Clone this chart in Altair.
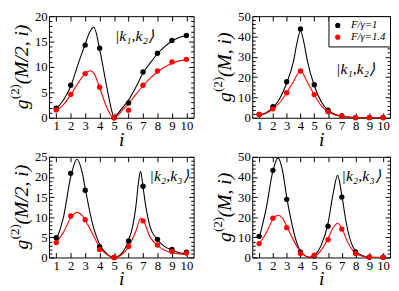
import altair as alt
import pandas as pd

S1 = "F/γ=1"
S2 = "F/γ=1.4"
SERIES = [S1, S2]
COLORS = ["#000000", "#ff0000"]

X = [1, 2, 3, 4, 5, 6, 7, 8, 9, 10]

# ---- panel A: g2(M/2, i), |k1,k2>
A_BLACK = [1.9, 6.4, 14.3, 13.7, 0.0, 2.9, 9.0, 12.7, 15.2, 16.2]
A_RED = [1.55, 4.6, 8.7, 6.0, 0.0, 1.5, 6.4, 9.2, 11.0, 11.5]
A_BCX = [1, 1.5, 2, 2.5, 3, 3.3, 3.6, 4.0, 4.3, 4.6, 4.8, 5.0, 5.2, 5.5, 6, 6.5, 7, 7.5, 8, 8.5, 9, 9.5, 10]
A_BCY = [1.8, 3.5, 6.2, 10.5, 14.5, 16.8, 17.8, 13.5, 9.0, 4.5, 1.8, 0.05, 0.6, 1.7, 3.5, 6.0, 8.8, 10.8, 12.6, 14.0, 15.1, 15.8, 16.2]
A_RCX = [1, 1.5, 2, 2.5, 3, 3.33, 3.6, 4.0, 4.5, 4.8, 5.0, 5.3, 5.6, 6, 6.5, 7, 7.5, 8, 8.5, 9, 9.5, 10]
A_RCY = [1.4, 2.6, 4.5, 6.8, 8.7, 9.25, 8.8, 5.9, 2.0, 0.4, 0.02, 0.6, 1.6, 2.8, 4.6, 6.3, 7.8, 9.0, 10.0, 10.7, 11.2, 11.4]

# ---- panel B: g2(M, i), |k1,k2>
B_BLACK = [1.7, 5.5, 17.7, 43.7, 16.3, 3.7, 0.9, 0.1, 0.1, 0.1]
B_RED = [1.6, 4.4, 12.3, 23.0, 11.4, 3.0, 0.8, 0.05, 0.05, 0.05]
B_BCX = [1, 1.5, 2, 2.5, 3, 3.5, 3.75, 4, 4.25, 4.5, 5, 5.5, 6, 6.5, 7, 7.5, 8, 9, 10]
B_BCY = [1.2, 2.5, 5.0, 9.5, 17.1, 28.0, 37.0, 42.7, 37.0, 28.0, 15.9, 8.0, 3.8, 1.7, 0.7, 0.3, 0.1, 0.02, 0.0]
B_RCX = [1, 1.5, 2, 2.5, 3, 3.5, 4, 4.5, 5, 5.5, 6, 6.5, 7, 7.5, 8, 9, 10]
B_RCY = [1.0, 2.2, 4.3, 7.5, 12.3, 18.0, 23.0, 17.5, 11.3, 6.0, 3.0, 1.4, 0.6, 0.25, 0.1, 0.02, 0.0]

# ---- panel C: g2(M/2, i), |k2,k3>
C_BLACK = [4.9, 20.9, 16.7, 2.7, 0.0, 4.1, 17.7, 4.5, 2.0, 1.3]
C_RED = [3.7, 10.3, 9.4, 2.0, 0.0, 2.7, 9.1, 3.1, 1.5, 1.1]
C_BCX = [1, 1.5, 2, 2.43, 2.8, 3, 3.5, 4, 4.5, 5, 5.5, 6, 6.3, 6.5, 6.7, 6.83, 7, 7.2, 7.5, 8, 8.5, 9, 9.5, 10]
C_BCY = [4.2, 10.0, 20.0, 24.4, 21.0, 17.2, 8.5, 3.3, 0.9, 0.0, 0.9, 4.3, 8.0, 12.5, 19.0, 21.4, 17.5, 12.5, 7.5, 4.4, 2.7, 1.8, 1.2, 0.9]
C_RCX = [1, 1.5, 2, 2.43, 2.8, 3.2, 3.6, 4, 4.5, 5, 5.5, 6, 6.5, 6.85, 7, 7.5, 8, 8.5, 9, 9.5, 10]
C_RCY = [3.6, 6.3, 9.8, 11.2, 10.4, 8.0, 5.2, 2.6, 0.7, 0.0, 0.6, 2.6, 6.5, 9.8, 9.3, 5.0, 3.0, 1.8, 1.2, 0.9, 0.7]

# ---- panel D: g2(M, i), |k2,k3>
D_BLACK = [10.5, 43.3, 28.9, 2.7, 0.8, 15.5, 30.0, 2.8, 0.1, 0.1]
D_RED = [6.9, 19.5, 14.8, 2.0, 1.1, 8.8, 14.1, 2.0, 0.2, 0.1]
D_BCX = [1, 1.5, 2, 2.37, 2.7, 3, 3.4, 3.8, 4.2, 4.67, 5.1, 5.5, 6, 6.35, 6.7, 7, 7.3, 7.7, 8, 8.5, 9, 9.5, 10]
D_BCY = [9.5, 24.0, 43.0, 49.5, 43.0, 30.0, 16.0, 6.0, 1.5, 0.0, 1.5, 6.0, 17.0, 31.0, 40.8, 31.0, 18.0, 7.0, 3.2, 0.9, 0.2, 0.05, 0.0]
D_RCX = [1, 1.5, 2, 2.37, 2.7, 3, 3.5, 4, 4.3, 4.67, 5.1, 5.5, 6, 6.35, 6.7, 7, 7.4, 7.8, 8, 8.5, 9, 10]
D_RCY = [6.8, 12.0, 19.0, 21.0, 19.5, 15.5, 8.5, 3.0, 1.0, 0.2, 1.0, 3.5, 9.5, 14.5, 17.0, 14.5, 8.0, 3.5, 2.2, 0.6, 0.15, 0.0]

Y20_MAJOR = [0, 5, 10, 15, 20]
Y20_MINOR = [v for v in range(0, 21) if v % 5]
Y25_MAJOR = [0, 5, 10, 15, 20, 25]
Y25_MINOR = [v for v in range(0, 26) if v % 5]
Y50_MAJOR = [0, 10, 20, 30, 40, 50]
Y50_MINOR = [v for v in range(0, 51, 2) if v % 10]

# y-axis title pieces: "g", superscript "(2)", argument
TITLE_G = "g"
TITLE_SUP = "(2)"
ARG_HALF = "(M/2, i)"
ARG_FULL = "(M, i)"

FONT = "Liberation Serif"


def ytitle_layers(arg, w_arg, h):
    # rotated title built from three text pieces so the superscript can be raised
    total = 10.5 + 15 + w_arg
    y0 = h / 2 + total / 2
    g = alt.Chart(pd.DataFrame({"t": [TITLE_G]})).mark_text(
        font=FONT, fontSize=20, fontStyle="italic", angle=270, align="left",
        baseline="alphabetic", color="black").encode(
        text="t:N", x=alt.value(-22), y=alt.value(y0))
    s = alt.Chart(pd.DataFrame({"t": [TITLE_SUP]})).mark_text(
        font=FONT, fontSize=13, angle=270, align="left",
        baseline="alphabetic", color="black").encode(
        text="t:N", x=alt.value(-31), y=alt.value(y0 - 10.5))
    a = alt.Chart(pd.DataFrame({"t": [arg]})).mark_text(
        font=FONT, fontSize=20, fontStyle="italic", angle=270, align="left",
        baseline="alphabetic", color="black").encode(
        text="t:N", x=alt.value(-22), y=alt.value(y0 - 25.5))
    return [g, s, a]


def panel(black, red, bcx, bcy, rcx, rcy, ymax, ymaj, ymin, arg, w_arg, ket, ketx, kety, w, h, legend=False):
    pts = pd.DataFrame({"i": X + X, "g": black + red, "s": [S1] * len(X) + [S2] * len(X)})
    cb = pd.DataFrame({"i": bcx, "g": bcy})
    cr = pd.DataFrame({"i": rcx, "g": rcy})
    kdf = pd.DataFrame({"i": [ketx], "g": [kety], "t": [ket]})
    xsc = alt.Scale(domain=[0.5, 10.5], nice=False, zero=False)
    ysc = alt.Scale(domain=[0, ymax], nice=False, zero=False)
    csc = alt.Scale(domain=SERIES, range=COLORS)
    common = dict(domain=False, grid=False, labelFlush=False, labelOverlap=False)

    if legend:
        leg = alt.Legend(orient="top-right", offset=0, title=None, strokeColor="black",
                         fillColor="white", padding=4, labelFont=FONT, labelFontSize=11,
                         labelFontStyle="italic", labelColor="black", symbolType="circle",
                         symbolSize=28, symbolStrokeWidth=0, labelOffset=8, rowPadding=0,
                         labelLimit=100)
    else:
        leg = None

    lb = alt.Chart(cb).mark_line(strokeWidth=1.1, interpolate="monotone", color="black").encode(
        x=alt.X("i:Q", scale=xsc, axis=alt.Axis(orient="top", values=X, offset=-5, tickSize=5,
                                                labels=False, title=None, **common)),
        y=alt.Y("g:Q", scale=ysc, axis=alt.Axis(orient="right", values=ymaj, offset=-5, tickSize=5,
                                                labels=False, title=None, **common)),
    )
    lr = alt.Chart(cr).mark_line(strokeWidth=1.1, interpolate="monotone", color="red").encode(
        x=alt.X("i:Q", scale=xsc, axis=None),
        y=alt.Y("g:Q", scale=ysc, axis=alt.Axis(orient="right", values=ymin, offset=-3, tickSize=3,
                                                labels=False, title=None, **common)),
    )
    p = alt.Chart(pts).mark_point(filled=True, size=30, opacity=1).encode(
        x=alt.X("i:Q", scale=xsc, axis=alt.Axis(orient="bottom", values=X, offset=-5, tickSize=5,
                                                labelPadding=2, title="i", titlePadding=-3, **common)),
        y=alt.Y("g:Q", scale=ysc, axis=alt.Axis(orient="left", values=ymaj, offset=-5, tickSize=5,
                                                labelPadding=2, title=None, **common)),
        color=alt.Color("s:N", scale=csc, legend=leg),
    )
    m1 = alt.Chart(pts).mark_point(opacity=0).encode(
        x=alt.X("i:Q", scale=xsc, axis=None),
        y=alt.Y("g:Q", scale=ysc, axis=alt.Axis(orient="left", values=ymin, offset=-3, tickSize=3,
                                                labels=False, title=None, **common)),
    )
    t = alt.Chart(kdf).mark_text(font=FONT, fontSize=16, fontStyle="italic", color="black").encode(
        x=alt.X("i:Q", scale=xsc, axis=None),
        y=alt.Y("g:Q", scale=ysc, axis=None),
        text="t:N",
    )
    layers = [lb, lr, p, m1, t] + ytitle_layers(arg, w_arg, h)
    return alt.layer(*layers).resolve_axis(x="independent", y="independent").properties(
        width=w, height=h)


W1, W2, H1, H2 = 148, 141, 104, 103

a = panel(A_BLACK, A_RED, A_BCX, A_BCY, A_RCX, A_RCY, 20, Y20_MAJOR, Y20_MINOR,
          ARG_HALF, 61, "|k₁,k₂⟩", 6.4, 16.1, W1, H1)
b = panel(B_BLACK, B_RED, B_BCX, B_BCY, B_RCX, B_RCY, 50, Y50_MAJOR, Y50_MINOR,
          ARG_FULL, 46, "|k₁,k₂⟩", 8.0, 24.0, W2, H1, legend=True)
c = panel(C_BLACK, C_RED, C_BCX, C_BCY, C_RCX, C_RCY, 25, Y25_MAJOR, Y25_MINOR,
          ARG_HALF, 61, "|k₂,k₃⟩", 8.8, 20.1, W1, H2)
d = panel(D_BLACK, D_RED, D_BCX, D_BCY, D_RCX, D_RCY, 50, Y50_MAJOR, Y50_MINOR,
          ARG_FULL, 46, "|k₂,k₃⟩", 8.4, 40.3, W2, H2)

chart = alt.concat(a, b, c, d, columns=2, spacing={"row": 40, "column": 60}, bounds="flush").resolve_scale(
    color="independent"
).resolve_legend(color="independent").properties(
    padding={"left": 0, "top": -2, "right": 0, "bottom": 0}
).configure_view(stroke="black", strokeWidth=1).configure_axis(
    labelFont=FONT, labelFontSize=13, labelColor="black", tickColor="black", tickWidth=1,
    titleFont=FONT, titleFontSize=20, titleFontStyle="italic", titleFontWeight="normal",
    titleColor="black"
)

chart.save("out.html", embed_options={"renderer": "svg", "actions": False})
